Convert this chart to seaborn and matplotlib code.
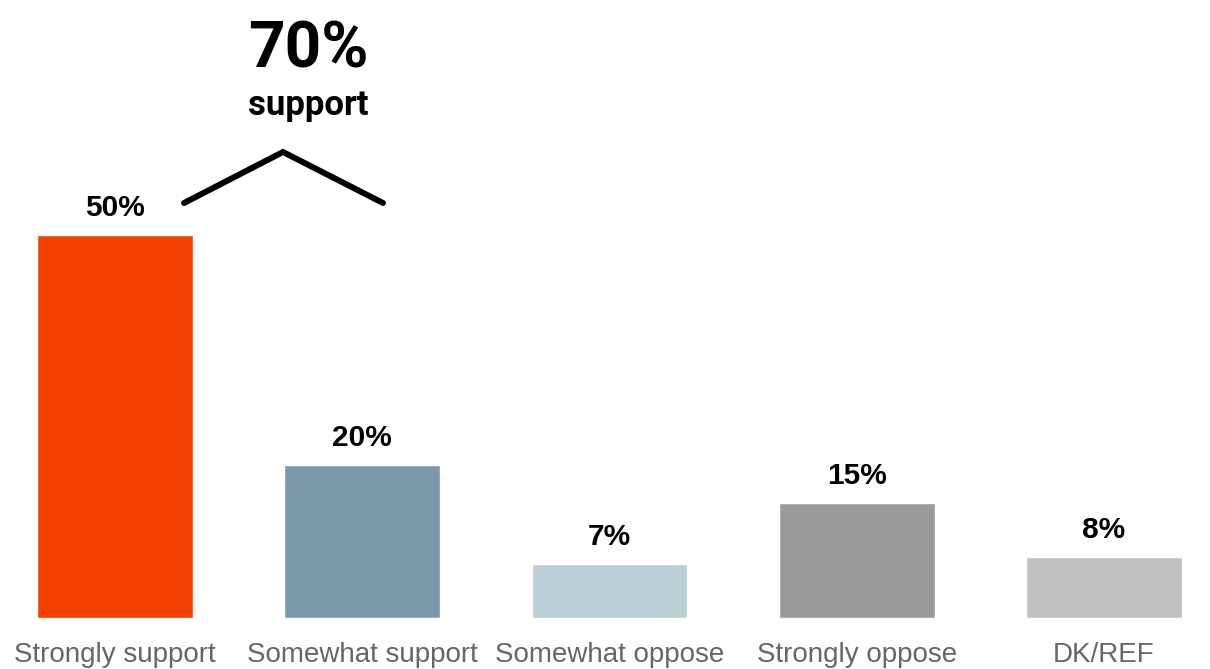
import matplotlib
matplotlib.use("Agg")
import matplotlib.pyplot as plt
import seaborn as sns
import pandas as pd

# data
categories = ["Strongly support", "Somewhat support", "Somewhat oppose", "Strongly oppose", "DK/REF"]
values = [50, 20, 7, 15, 8]
colors = ["#F24100", "#7B99AB", "#B8CFD3", "#9A9A9A", "#C0C0C0"]
total_label = "70%"
total_sub = "support"

df = pd.DataFrame({"category": categories, "value": values})

sns.set_theme(style="white")
plt.rcParams["font.family"] = ["Liberation Sans", "DejaVu Sans"]

fig = plt.figure(figsize=(12.1, 6.69), dpi=100)
ax = fig.add_axes([0, 51 / 669, 1, 618 / 669])

sns.barplot(data=df, x="category", y="value", hue="category", palette=colors,
            legend=False, width=0.63, saturation=1, ax=ax)

# axes placement so bars sit where the reference has them
step = 247.25
ax.set_xlim(-115 / step, (1210 - 115) / step)
px = 7.66
ax.set_ylim(0, 618 / px)

for i, v in enumerate(values):
    ax.text(i, v + 13 / px, f"{v}%", ha="center", va="bottom",
            fontsize=21.5, fontweight="bold", color="black")

# bracket over the two support bars
bx = [(184 - 115) / step, (283 - 115) / step, (383 - 115) / step]
by = [(618 - 203) / px, (618 - 152) / px, (618 - 203) / px]
ax.plot(bx, by, color="black", lw=4.3, solid_capstyle="round", solid_joinstyle="miter")

ax.text((308 - 115) / step, (618 - 68) / px, total_label, ha="center", va="baseline",
        fontsize=46, fontweight="bold", family=["Roboto", "DejaVu Sans"],
        color="black")
ax.text((308 - 115) / step, (618 - 115) / px, total_sub, ha="center", va="baseline",
        fontsize=25, fontweight="bold", family=["Roboto", "DejaVu Sans"],
        color="black")

ax.set_xlabel("")
ax.set_ylabel("")
ax.set_yticks([])
ax.tick_params(axis="x", length=0, pad=17, labelsize=20, labelcolor="#666666")
sns.despine(ax=ax, left=True, bottom=True)
ax.patch.set_alpha(0)

fig.savefig("out.png", dpi=100)
